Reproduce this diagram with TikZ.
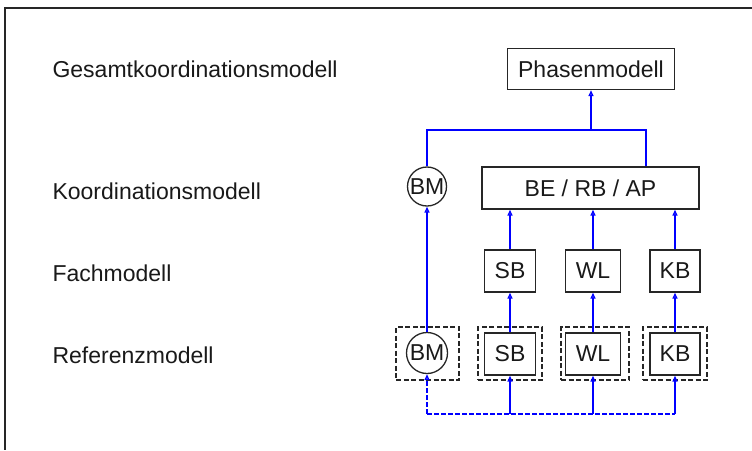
\documentclass[tikz,border=0pt]{standalone}
\usepackage{fontspec}
\setmainfont{Liberation Sans}
\usetikzlibrary{arrows.meta}
\begin{document}
\begin{tikzpicture}[x=1pt,y=-1pt,
  every node/.style={font=\fontsize{23}{27}\selectfont, text=black!90},
  box/.style={draw=black!85, line width=1.4pt, rectangle, inner sep=0pt, minimum height=42pt},
  rund/.style={draw=black!85, line width=1.3pt, circle, inner sep=0pt, minimum size=41pt},
  hull/.style={draw=black!85, line width=1.3pt, dash pattern=on 5pt off 2.5pt, rectangle, inner sep=0pt, minimum height=53pt},
  level/.style={anchor=base west},
  link/.style={draw=blue, line width=1.4pt},
  arr/.style={link, -{Triangle[open, length=6pt, width=5pt]}},
  dlink/.style={link, dash pattern=on 5pt off 2pt}
]
\useasboundingbox (0,0) rectangle (752,450);
% frame on the left and top
\draw[line width=1.6pt, black!85] (752,8) -- (5,8) -- (5,450);

% level labels
\node[level] (lg) at (49,77)  {Gesamtkoordinationsmodell};
\node[level] (lk) at (49,199) {Koordinationsmodell};
\node[level] (lf) at (49,281) {Fachmodell};
\node[level] (lr) at (49,363) {Referenzmodell};

% top level
\node[box, minimum width=167pt, minimum height=41pt] (phase) at (591,69) {Phasenmodell};

% coordination level
\node[rund, minimum size=39pt] (bmK) at (427,186.5) {BM};
\node[box, minimum width=217pt] (coord) at (590.5,188) {BE / RB / AP};

% discipline models
\node[box, minimum width=51pt] (sbF) at (510,271) {SB};
\node[box, minimum width=55pt] (wlF) at (593,271) {WL};
\node[box, minimum width=50pt] (kbF) at (675,271) {KB};

% reference models with dashed hulls
\node[hull, minimum width=63pt] (bmH) at (427.5,353.5) {};
\node[hull, minimum width=64pt] (sbH) at (510,353.5) {};
\node[hull, minimum width=68pt] (wlH) at (595,353.5) {};
\node[hull, minimum width=64pt] (kbH) at (675,353.5) {};
\node[rund] (bmR) at (427,353) {BM};
\node[box, minimum width=51pt] (sbR) at (510,354) {SB};
\node[box, minimum width=55pt] (wlR) at (593,354) {WL};
\node[box, minimum width=50pt] (kbR) at (675,354) {KB};

% bus below the reference models
\coordinate (b0) at (427,414);
\coordinate (b1) at (510,414);
\coordinate (b2) at (593,414);
\coordinate (b3) at (675,414);
\draw[dlink] (b0) -- (b3);
\draw[arr, dash pattern=on 5pt off 2pt] (b0) -- (bmR);
\draw[arr] (b1) -- (sbR);
\draw[arr] (b2) -- (wlR);
\draw[arr] (b3) -- (kbR);

% reference -> discipline
\draw[arr] (sbR) -- (sbF);
\draw[arr] (wlR) -- (wlF);
\draw[arr] (kbR) -- (kbF);
\draw[arr] (bmR) -- (bmK);

% discipline -> coordination
\draw[arr] (sbF) -- (sbF |- coord.south);
\draw[arr] (wlF) -- (wlF |- coord.south);
\draw[arr] (kbF) -- (kbF |- coord.south);

% coordination -> overall
\coordinate (tl) at (427,130);
\coordinate (tr) at (646,130);
\coordinate (tm) at (591,130);
\draw[link] (bmK.north) -- (tl) -- (tr) -- (tr |- coord.north);
\draw[arr] (tm) -- (phase);
\end{tikzpicture}
\end{document}
